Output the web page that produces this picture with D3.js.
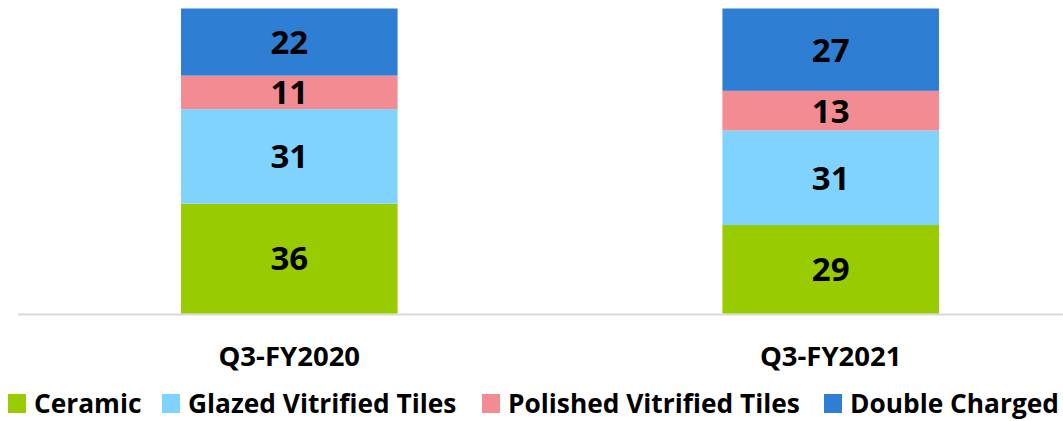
<!DOCTYPE html>
<html><head><meta charset="utf-8">
<script src="https://cdn.jsdelivr.net/npm/d3@7"></script>
<style>body{margin:0;background:#fff}svg{display:block}text{font-family:"Open Sans",sans-serif;font-weight:bold;fill:#000}</style>
</head><body><svg id="c" width="1063" height="421"></svg>
<script>
const categories = ["Q3-FY2020", "Q3-FY2021"];
const seriesNames = ["Ceramic", "Glazed Vitrified Tiles", "Polished Vitrified Tiles", "Double Charged"];
const ceramic = [36, 29];
const glazed = [31, 31];
const polished = [11, 13];
const doubleCharged = [22, 27];
const colors = ["#99CC00", "#80D3FF", "#F38B92", "#2E7ED3"];

const svg = d3.select("#c");
const seriesVals = [ceramic, glazed, polished, doubleCharged];
const rows = categories.map((c, i) => {
  const r = {cat: c};
  seriesNames.forEach((s, j) => r[s] = seriesVals[j][i]);
  return r;
});
const stack = d3.stack().keys(seriesNames)(rows);

const x = d3.scaleBand().domain(categories).range([18.6, 1101.4]).paddingInner(0.6).paddingOuter(0.3);
const y = d3.scaleLinear().domain([0, 100]).range([313.5, 8.5]);

svg.append("line").attr("x1", 18).attr("x2", 1063).attr("y1", 314.5).attr("y2", 314.5)
  .attr("stroke", "#d9d9d9").attr("stroke-width", 2);

stack.forEach((layer, j) => {
  const g = svg.append("g");
  g.selectAll("rect").data(layer).join("rect")
    .attr("x", d => x(d.data.cat)).attr("width", x.bandwidth())
    .attr("y", d => y(d[1])).attr("height", d => y(d[0]) - y(d[1]))
    .attr("fill", colors[j]);
  g.selectAll("text").data(layer).join("text")
    .attr("x", d => x(d.data.cat) + x.bandwidth() / 2)
    .attr("y", d => (y(d[0]) + y(d[1])) / 2)
    .attr("dy", "0.36em").attr("text-anchor", "middle").attr("font-size", 33)
    .text(d => d[1] - d[0]);
});

svg.append("g").selectAll("text").data(categories).join("text")
  .attr("x", d => x(d) + x.bandwidth() / 2).attr("y", 366)
  .attr("text-anchor", "middle").attr("font-size", 27.5).text(d => d);

const legend = svg.append("g");
const legendX = [8, 162, 482, 824];
seriesNames.forEach((s, j) => {
  legend.append("rect").attr("x", legendX[j]).attr("y", 394).attr("width", 18).attr("height", 19).attr("fill", colors[j]);
  legend.append("text").attr("x", legendX[j] + 26).attr("y", 413).attr("font-size", 26.3).text(s);
});
</script></body></html>
